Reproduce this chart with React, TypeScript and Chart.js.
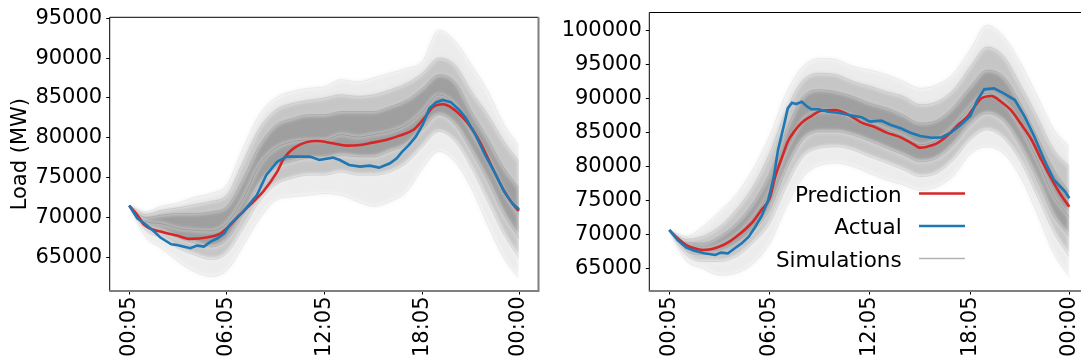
import React, { useEffect, useRef } from 'react';
import { Chart, registerables } from 'chart.js';

// ---- time axis (minutes after midnight) ----
const TICK_TIMES = [5, 365, 725, 1085, 1440];
const TICK_LABELS = ['00:05', '06:05', '12:05', '18:05', '00:00'];
const X_MIN = -66.75;
const X_MAX = 1511.75;

// hourly sample times of the simulation envelopes
const SIM_TIMES = [5, 65, 125, 185, 245, 305, 365, 425, 485, 545, 605, 665, 725, 785, 845, 905, 965, 1025, 1085, 1145, 1205, 1265, 1325, 1385, 1440];

// ---- left day: simulation quantiles (MW) ----
const LEFT_SIM_MIN = [71500, 67600, 66100, 64500, 63200, 62600, 63400, 66500, 69900, 72200, 72600, 72800, 73000, 72800, 72000, 71400, 72000, 73200, 76200, 78300, 77000, 73700, 69100, 64900, 62400];
const LEFT_SIM_P10 = [71500, 68400, 67400, 66100, 65300, 64700, 65500, 68600, 72000, 74100, 74900, 75300, 75300, 75700, 75300, 75300, 75700, 76800, 78900, 80800, 79500, 76200, 72000, 67800, 64900];
const LEFT_SIM_P25 = [71500, 69000, 68400, 67400, 66800, 66300, 67200, 70300, 74100, 76200, 77000, 77400, 77400, 77800, 77600, 77600, 78300, 79100, 81000, 82900, 81600, 78300, 74500, 70300, 67400];
const LEFT_SIM_MED = [71500, 69500, 69200, 68600, 68400, 68300, 69300, 72400, 76600, 78700, 79500, 79700, 79700, 80400, 80100, 80400, 80800, 81600, 83300, 85400, 84100, 80800, 77400, 73200, 70300];
const LEFT_SIM_P75 = [71500, 70000, 70300, 70500, 70500, 70700, 71400, 74900, 79100, 81600, 82400, 82900, 82900, 83300, 83300, 83300, 83900, 84700, 86200, 87900, 87000, 83300, 79900, 76200, 73700];
const LEFT_SIM_P90 = [71500, 70400, 70900, 71200, 71600, 72000, 72800, 77000, 81200, 83500, 84300, 84700, 85000, 85400, 85200, 85400, 86000, 86800, 88100, 90000, 89100, 85800, 82900, 79500, 77000];
const LEFT_SIM_MAX = [71500, 70700, 71400, 71800, 72500, 73000, 74100, 78700, 82900, 85000, 85800, 86200, 86400, 87300, 87000, 87500, 88100, 88700, 89600, 93500, 92100, 89100, 85800, 81600, 78900];

// ---- left day: prediction and actual load ----
const LEFT_PRED_T = [5, 35, 60, 120, 180, 230, 290, 340, 365, 400, 450, 500, 550, 575, 620, 695, 755, 805, 855, 900, 950, 1000, 1050, 1075, 1100, 1120, 1160, 1195, 1230, 1270, 1305, 1340, 1380, 1415, 1440];
const LEFT_PRED_MW = [71480, 70310, 69060, 68220, 67720, 67300, 67470, 67970, 68640, 69890, 71570, 73320, 75750, 77420, 78890, 79600, 79310, 79010, 79100, 79390, 79720, 80270, 80980, 81820, 82860, 83780, 84200, 83700, 82650, 80980, 78890, 76380, 73660, 71780, 70810];
const LEFT_ACT_T = [5, 35, 60, 95, 120, 160, 180, 230, 255, 280, 305, 330, 355, 375, 425, 475, 510, 550, 585, 620, 670, 705, 755, 780, 815, 855, 890, 925, 965, 990, 1010, 1035, 1060, 1085, 1110, 1135, 1160, 1190, 1220, 1245, 1280, 1315, 1355, 1385, 1415, 1440];
const LEFT_ACT_MW = [71480, 69890, 69260, 68300, 67470, 66630, 66540, 66130, 66460, 66340, 66960, 67380, 68010, 69060, 70730, 72820, 75330, 77000, 77630, 77630, 77630, 77210, 77510, 77210, 76590, 76380, 76500, 76250, 76800, 77420, 78260, 79100, 80140, 81610, 83700, 84450, 84750, 84450, 83490, 82440, 80350, 77840, 75330, 73240, 71780, 71020];

// ---- right day: simulation quantiles (MW) ----
const RIGHT_SIM_MIN = [70600, 66200, 65000, 64000, 64300, 65700, 68700, 74100, 78500, 80200, 80500, 80000, 79000, 78000, 77300, 76500, 77000, 78700, 81900, 82900, 81900, 78500, 73100, 67200, 63800];
const RIGHT_SIM_P10 = [70600, 67000, 66000, 66000, 66700, 68700, 71600, 77000, 81400, 82700, 82900, 82400, 81400, 80500, 79500, 78500, 79000, 81000, 83900, 85400, 84100, 80700, 75600, 70200, 66700];
const RIGHT_SIM_P25 = [70600, 67600, 67000, 67300, 68400, 70400, 73600, 79500, 83900, 85100, 85100, 84600, 83700, 82700, 81700, 80700, 81200, 83200, 86100, 87800, 86600, 82900, 78000, 72600, 69700];
const RIGHT_SIM_MED = [70600, 68200, 67800, 68400, 69900, 72400, 76300, 82400, 86800, 88100, 88100, 87300, 86400, 85400, 84400, 83200, 83900, 85900, 88800, 90800, 89500, 85900, 81000, 75600, 72600];
const RIGHT_SIM_P75 = [70600, 68800, 68700, 69700, 71600, 74600, 79000, 85400, 90300, 91300, 91000, 90300, 89300, 88600, 87600, 86400, 86800, 88800, 91800, 94200, 93200, 89300, 84400, 79500, 76300];
const RIGHT_SIM_P90 = [70600, 69300, 69700, 71100, 73600, 77000, 81900, 88300, 92700, 93700, 93500, 92500, 91800, 91000, 90300, 89100, 89500, 91300, 94700, 97600, 96200, 92000, 87300, 82400, 80000];
const RIGHT_SIM_MAX = [70600, 69700, 71100, 73300, 75800, 79500, 84400, 90800, 94700, 95900, 95700, 94700, 94200, 93500, 92500, 91500, 92000, 93700, 97200, 100800, 99100, 95200, 90300, 85400, 82900];

// ---- right day: prediction and actual load ----
const RIGHT_PRED_T = [5, 35, 65, 95, 125, 155, 185, 215, 245, 275, 305, 335, 365, 385, 410, 430, 455, 480, 515, 550, 600, 650, 695, 740, 785, 835, 885, 905, 930, 965, 1005, 1040, 1075, 1100, 1125, 1160, 1195, 1230, 1265, 1305, 1340, 1375, 1410, 1440];
const RIGHT_PRED_MW = [70640, 69420, 68440, 67940, 67700, 67800, 68190, 68780, 69660, 70640, 71870, 73590, 75310, 78500, 81440, 83650, 85270, 86450, 87430, 88220, 88320, 87580, 86450, 85860, 84980, 84290, 83160, 82770, 82920, 83410, 84640, 86110, 87340, 88810, 90040, 90380, 89540, 88320, 86350, 83900, 80950, 78250, 75800, 74080];
const RIGHT_ACT_T = [5, 35, 65, 95, 130, 170, 190, 215, 240, 265, 290, 310, 335, 360, 380, 395, 415, 430, 445, 460, 480, 500, 515, 540, 575, 610, 650, 695, 725, 765, 800, 835, 870, 905, 945, 980, 1015, 1050, 1085, 1110, 1135, 1170, 1205, 1245, 1280, 1315, 1350, 1385, 1425, 1440];
const RIGHT_ACT_MW = [70640, 69170, 68090, 67600, 67210, 66960, 67310, 67210, 67950, 68680, 69660, 70890, 72610, 75060, 78500, 82430, 85860, 88560, 89400, 89200, 89540, 88810, 88420, 88420, 88070, 87920, 87580, 87240, 86600, 86750, 86110, 85620, 84980, 84490, 84240, 84290, 84980, 86110, 87430, 89790, 91360, 91510, 90770, 89790, 87340, 84390, 80950, 78010, 76290, 75310];

// ---- value ticks ----
const LEFT_Y_TICKS = [65000, 70000, 75000, 80000, 85000, 90000, 95000];
const RIGHT_Y_TICKS = [65000, 70000, 75000, 80000, 85000, 90000, 95000, 100000];

const LEGEND_LABELS = ['Prediction', 'Actual', 'Simulations'];

// ---- styling ----
const FONT = '"DejaVu Sans", sans-serif';
const RED = '#d62728';
const BLUE = '#1f77b4';
const SIM_HANDLE = '#b3b3b3';
const SIM_STROKES = ['rgba(0,0,0,0.05)', 'rgba(0,0,0,0.08)', 'rgba(0,0,0,0.10)', 'rgba(0,0,0,0.14)', 'rgba(0,0,0,0.10)', 'rgba(0,0,0,0.08)', 'rgba(0,0,0,0.05)'];
const SIM_FILLS = ['#ececec', '#c6c6c6', '#9f9f9f', '#9f9f9f', '#c6c6c6', '#ececec'];
const BAND_SOFTEN = 'blur(2px)';

// All band fills are painted together in the filler's beforeDatasetsDraw hook.
// This plugin is registered ahead of the filler so it can soften that layer,
// then switch the filter off before the lines themselves are stroked.
const softBandPlugin = {
  id: 'softBand',
  beforeDatasetsDraw(chart: any) {
    chart.ctx.filter = BAND_SOFTEN;
  },
  beforeDatasetDraw(chart: any) {
    chart.ctx.filter = 'none';
  },
  afterDatasetsDraw(chart: any) {
    chart.ctx.filter = 'none';
  },
};

Chart.register(softBandPlugin);
Chart.register(...registerables);

type Panel = {
  sims: number[][];
  predT: number[];
  predMW: number[];
  actT: number[];
  actMW: number[];
  yMin: number;
  yMax: number;
  yTicks: number[];
  yWidth: number;
  padTop: number;
  padRight: number;
  title?: string;
  legend?: boolean;
};

const LEFT_PANEL: Panel = {
  sims: [LEFT_SIM_MIN, LEFT_SIM_P10, LEFT_SIM_P25, LEFT_SIM_MED, LEFT_SIM_P75, LEFT_SIM_P90, LEFT_SIM_MAX],
  predT: LEFT_PRED_T,
  predMW: LEFT_PRED_MW,
  actT: LEFT_ACT_T,
  actMW: LEFT_ACT_MW,
  yMin: 60760,
  yMax: 95126,
  yTicks: LEFT_Y_TICKS,
  yWidth: 109.7,
  padTop: 17.3,
  padRight: 6.5,
  title: 'Load (MW)',
};

const RIGHT_PANEL: Panel = {
  sims: [RIGHT_SIM_MIN, RIGHT_SIM_P10, RIGHT_SIM_P25, RIGHT_SIM_MED, RIGHT_SIM_P75, RIGHT_SIM_P90, RIGHT_SIM_MAX],
  predT: RIGHT_PRED_T,
  predMW: RIGHT_PRED_MW,
  actT: RIGHT_ACT_T,
  actMW: RIGHT_ACT_MW,
  yMin: 61656,
  yMax: 102681,
  yTicks: RIGHT_Y_TICKS,
  yWidth: 104.3,
  padTop: 12.5,
  padRight: 10.7,
  legend: true,
};

const pts = (t: number[], v: number[]) => t.map((x, i) => ({ x, y: v[i] }));

// frame around the plotting area
const framePlugin = {
  id: 'frame',
  afterDatasetsDraw(chart: any) {
    const { ctx, chartArea: a } = chart;
    ctx.save();
    ctx.filter = 'none';
    ctx.strokeStyle = '#000';
    ctx.lineWidth = 1;
    ctx.beginPath();
    ctx.moveTo(a.left, a.bottom);
    ctx.lineTo(a.left, a.top);
    ctx.lineTo(a.right, a.top);
    ctx.stroke();
    ctx.strokeStyle = '#7f7f7f';
    ctx.lineWidth = 2;
    ctx.beginPath();
    ctx.moveTo(a.left - 0.5, a.bottom);
    ctx.lineTo(a.right, a.bottom);
    ctx.lineTo(a.right, a.top);
    ctx.stroke();
    ctx.restore();
  },
};

// legend with labels on the left and line handles on the right
const sideLegendPlugin = {
  id: 'sideLegend',
  afterDraw(chart: any) {
    if (!chart.options.plugins.sideLegend?.show) return;
    const { ctx, chartArea: a } = chart;
    const textRight = a.left + 252.4;
    const h0 = textRight + 17.3;
    const h1 = h0 + 46;
    const colors = [RED, BLUE, SIM_HANDLE];
    const widths = [2.5, 2.5, 1.5];
    ctx.save();
    ctx.filter = 'none';
    ctx.font = `21.5px ${FONT}`;
    ctx.fillStyle = '#000';
    ctx.textAlign = 'right';
    ctx.textBaseline = 'alphabetic';
    LEGEND_LABELS.forEach((label, i) => {
      const base = a.top + 189 + i * 32.5;
      ctx.fillText(label, textRight, base);
      ctx.strokeStyle = colors[i];
      ctx.lineWidth = widths[i];
      ctx.beginPath();
      ctx.moveTo(h0, base - 8);
      ctx.lineTo(h1, base - 8);
      ctx.stroke();
    });
    ctx.restore();
  },
};

function buildChart(canvas: HTMLCanvasElement, p: Panel) {
  const simSets = p.sims.map((vals, k) => ({
    label: 'sim' + k,
    data: pts(SIM_TIMES, vals),
    borderColor: SIM_STROKES[k],
    borderWidth: 1,
    pointRadius: 0,
    cubicInterpolationMode: 'monotone' as const,
    fill: k === 0 ? false : { target: k + 1, above: SIM_FILLS[k - 1], below: SIM_FILLS[k - 1] },
    order: 2 + k,
  }));

  return new Chart(canvas, {
    type: 'line',
    data: {
      datasets: [
        {
          label: 'Actual',
          data: pts(p.actT, p.actMW),
          borderColor: BLUE,
          borderWidth: 2.6,
          pointRadius: 0,
          fill: false,
          order: 0,
        },
        {
          label: 'Prediction',
          data: pts(p.predT, p.predMW),
          borderColor: RED,
          borderWidth: 2.6,
          pointRadius: 0,
          cubicInterpolationMode: 'monotone',
          fill: false,
          order: 1,
        },
        ...simSets,
      ] as any,
    },
    options: {
      responsive: false,
      animation: false,
      devicePixelRatio: 1,
      events: [],
      layout: { padding: { top: p.padTop, right: p.padRight, left: 0, bottom: 0 } },
      plugins: {
        legend: { display: false },
        tooltip: { enabled: false },
        filler: { drawTime: 'beforeDatasetsDraw' },
        sideLegend: { show: !!p.legend },
      } as any,
      scales: {
        x: {
          type: 'linear',
          min: X_MIN,
          max: X_MAX,
          afterBuildTicks: (s: any) => {
            s.ticks = TICK_TIMES.map((value) => ({ value }));
          },
          afterFit: (s: any) => {
            s.height = 71;
            s.paddingLeft = 0;
            s.paddingRight = 0;
          },
          ticks: {
            autoSkip: false,
            minRotation: 90,
            maxRotation: 90,
            padding: 2,
            color: '#000',
            font: { family: FONT, size: 21 },
            callback: (_v: any, i: number) => TICK_LABELS[i],
          },
          grid: { drawOnChartArea: false, drawTicks: true, tickLength: 3.5, color: '#000', lineWidth: 1 },
          border: { display: false },
        },
        y: {
          type: 'linear',
          min: p.yMin,
          max: p.yMax,
          afterBuildTicks: (s: any) => {
            s.ticks = p.yTicks.map((value) => ({ value }));
          },
          afterFit: (s: any) => {
            s.width = p.yWidth;
            s.paddingTop = 0;
            s.paddingBottom = 0;
          },
          ticks: {
            padding: 4,
            color: '#000',
            font: { family: FONT, size: 21 },
            callback: (v: any) => String(v),
          },
          grid: { drawOnChartArea: false, drawTicks: true, tickLength: 3.5, color: '#000', lineWidth: 1 },
          border: { display: false },
          title: p.title
            ? { display: true, text: p.title, color: '#000', font: { family: FONT, size: 21 }, padding: { top: 8, bottom: 0 } }
            : { display: false },
        },
      },
    } as any,
    plugins: [framePlugin, sideLegendPlugin],
  });
}

export default function App() {
  const leftRef = useRef<HTMLCanvasElement>(null);
  const rightRef = useRef<HTMLCanvasElement>(null);

  useEffect(() => {
    const a = buildChart(leftRef.current as HTMLCanvasElement, LEFT_PANEL);
    const b = buildChart(rightRef.current as HTMLCanvasElement, RIGHT_PANEL);
    return () => {
      a.destroy();
      b.destroy();
    };
  }, []);

  return (
    <div style={{ position: 'fixed', left: 0, top: 0, width: 1081, height: 362, overflow: 'hidden', background: '#fff' }}>
      <canvas ref={leftRef} width={545} height={362} style={{ position: 'absolute', left: 0, top: 0 }} />
      <canvas ref={rightRef} width={555} height={362} style={{ position: 'absolute', left: 545, top: 0 }} />
    </div>
  );
}
